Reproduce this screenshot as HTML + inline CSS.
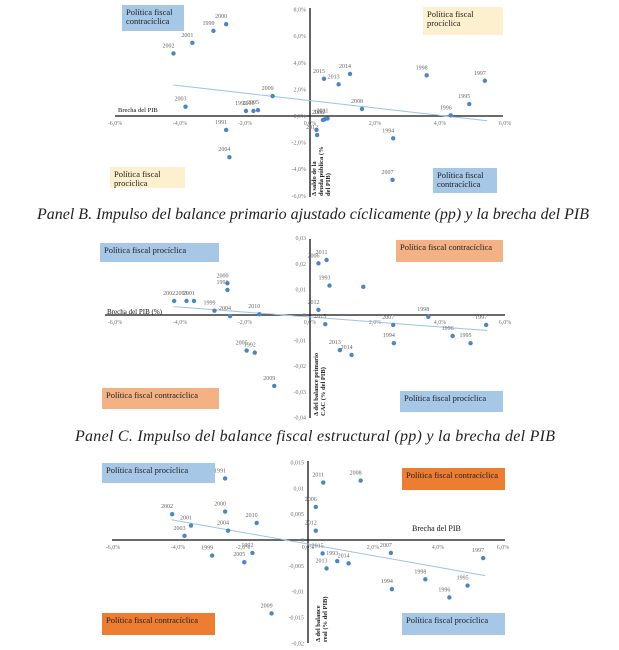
<!DOCTYPE html>
<html><head><meta charset="utf-8"><style>
html,body{margin:0;padding:0;background:#fff;}
svg{display:block;font-family:"Liberation Serif",serif;}
</style></head><body>
<svg id="c" width="619" height="650" viewBox="0 0 619 650" xmlns="http://www.w3.org/2000/svg"></svg>
<script>
// Panel A data
const aYears=["2000","1999","2001","2002","2003","1992","2010","2005","2009","1991","2004","2015","2013","2014","2011","1993","2006","","2012","2008","1994","2007","1998","1996","1995","1997"];
const aX=[-2.58,-2.97,-3.62,-4.2,-3.83,-1.97,-1.74,-1.6,-1.15,-2.58,-2.48,0.43,0.88,1.23,0.54,0.45,0.4,0.2,0.22,1.6,2.56,2.54,3.59,4.33,4.9,5.38];
const aY=[6.9,6.4,5.5,4.7,0.7,0.38,0.38,0.45,1.5,-1.05,-3.1,2.8,2.38,3.16,-0.18,-0.25,-0.3,-1.05,-1.43,0.53,-1.68,-4.8,3.06,0.05,0.9,2.65];
const aTrend=[1.16,-0.278];
const aYTicks=[8,6,4,2,0,-2,-4,-6];
const aYTickLabels=["8,0%","6,0%","4,0%","2,0%","0,0%","-2,0%","-4,0%","-6,0%"];
// Panel B data
const bYears=["2011","2006","1993","","2012","2015","2013","2014","2009","2002","2003","2001","2000","1991","1999","2004","2010","2005","1992","2007","1998","1994","1996","1995","1997"];
const bX=[0.51,0.26,0.6,1.64,0.26,0.47,0.92,1.28,-1.1,-4.18,-3.8,-3.57,-2.54,-2.54,-2.94,-2.46,-1.56,-1.95,-1.7,2.56,3.64,2.58,4.39,4.94,5.42];
const bY=[0.0215,0.0202,0.0115,0.011,0.002,-0.0036,-0.0137,-0.0156,-0.0277,0.0055,0.0055,0.0055,0.0124,0.0098,0.0017,-0.0004,0.0003,-0.0139,-0.0147,-0.0039,-0.0007,-0.011,-0.0082,-0.011,-0.0039];
const bTrend=[-0.0008,-0.000967];
const bYTicks=[0.03,0.02,0.01,0,-0.01,-0.02,-0.03,-0.04];
const bYTickLabels=["0,03","0,02","0,01","0","-0,01","-0,02","-0,03","-0,04"];
// Panel C data
const cYears=["1991","2011","2008","2006","2012","2002","2001","2003","2000","2004","2010","1999","2005","1992","2009","2015","2013","1993","2014","2007","1994","1998","1996","1995","1997"];
const cX=[-2.55,0.47,1.62,0.24,0.24,-4.18,-3.6,-3.8,-2.55,-2.46,-1.58,-2.95,-1.96,-1.71,-1.12,0.45,0.57,0.9,1.25,2.55,2.58,3.61,4.35,4.91,5.39];
const cY=[0.0119,0.0111,0.0115,0.0064,0.0018,0.005,0.0028,0.0008,0.0055,0.0018,0.0033,-0.003,-0.0043,-0.0025,-0.0142,-0.0026,-0.0055,-0.0041,-0.0045,-0.0025,-0.0095,-0.0076,-0.0111,-0.0088,-0.0035];
const cTrend=[-0.00078,-0.00112];
const cYTicks=[0.015,0.01,0.005,0,-0.005,-0.01,-0.015,-0.02];
const cYTickLabels=["0,015","0,01","0,005","0","-0,005","-0,01","-0,015","-0,02"];
const xTicks=[-6,-4,-2,0,2,4,6];
const xTickLabels=["-6,0%","-4,0%","-2,0%","0,0%","2,0%","4,0%","6,0%"];

const svg=document.getElementById('c');
const NS="http://www.w3.org/2000/svg";
function mk(tag,attrs,parent){const e=document.createElementNS(NS,tag);for(const k in attrs)e.setAttribute(k,attrs[k]);(parent||svg).appendChild(e);return e;}
function txt(s,x,y,size,attrs,parent){const e=mk('text',Object.assign({x:x,y:y,'font-size':size},attrs||{}),parent);e.textContent=s;return e;}

function panel(id,cfg,years,xs,ys,trend,yTicks,yTickLabels){
  const g=mk('g',{});
  
  
  const sx=v=>cfg.x0+v*cfg.kx;
  const sy=v=>cfg.y0-v*cfg.ky;
  cfg.boxes.forEach((b,i)=>{
    const r=mk('rect',{x:b[0],y:b[1],width:b[2],height:b[3],fill:b[4]},g);
    
    
    b[5].forEach((line,j)=>{
      const t=txt(line,b[0]+4,b[1]+10+j*9,8.5,{fill:'#222'},g);
      
      
    });
  });
  const xa=mk('line',{x1:cfg.xl,x2:cfg.xr,y1:cfg.y0,y2:cfg.y0,stroke:'#111','stroke-width':1.3},g);
  
  
  const ya=mk('line',{x1:cfg.x0,x2:cfg.x0,y1:cfg.yt,y2:cfg.yb,stroke:'#111','stroke-width':1.3},g);
  
  
  xTicks.forEach((v,i)=>{
    const t=txt(xTickLabels[i],sx(v),cfg.y0+9,6,{fill:'#777','text-anchor':'middle'},g);
    
    
  });
  yTicks.forEach((v,i)=>{
    const t=txt(yTickLabels[i],cfg.x0-4,sy(v)+2,6,{fill:'#777','text-anchor':'end'},g);
    
    
  });
  const tx1=-4.2,tx2=5.45;
  const tl=mk('line',{x1:sx(tx1),y1:sy(trend[0]+trend[1]*tx1),x2:sx(tx2),y2:sy(trend[0]+trend[1]*tx2),stroke:'#9cc3e6','stroke-width':1},g);
  
  
  xs.forEach((v,i)=>{
    const c=mk('circle',{cx:sx(v),cy:sy(ys[i]),r:2.2,fill:'#4a86c5'},g);
    
    
    if(years[i]){
      const t=txt(years[i],sx(v)-5,sy(ys[i])-6,6,{fill:'#666','text-anchor':'middle'},g);
      
      
    }
  });
  const xt=txt(cfg.xTitle[0],cfg.xTitle[1],cfg.xTitle[2],cfg.xTitle[3],{fill:'#111'},g);
  
  
  const yg=mk('g',{transform:'translate('+cfg.yTitle[1]+','+cfg.yTitle[2]+') rotate(-90)'},g);
  
  
  cfg.yTitle[0].forEach((line,j)=>{
    const t=txt(line,0,j*7,6.5,{fill:'#222','font-weight':'bold'},yg);
    
    
  });
}

const BLUE='#a7c7e7',YEL='#fdf0cf',ORL='#f4b183',ORD='#ed7d31';
panel('panel-a',{x0:310,kx:32.5,y0:116,ky:13.3,xl:115,xr:503,yt:8,yb:197,
  boxes:[[122,5,62,26,BLUE,['Política fiscal','contracíclica']],[423,7,80,28,YEL,['Política fiscal','procíclica']],
         [110,167,75,21,YEL,['Política fiscal','procíclica']],[433,168,64,25,BLUE,['Política fiscal','contracíclica']]],
  xTitle:['Brecha del PIB',118,112,6.5],yTitle:[['Δ saldo de la','deuda pública (%','del PIB)'],316,196]},
  aYears,aX,aY,aTrend,aYTicks,aYTickLabels);
panel('panel-b',{x0:310,kx:32.5,y0:315,ky:2560,xl:105,xr:505,yt:239,yb:418,
  boxes:[[100,243,119,19,BLUE,['Política fiscal procíclica']],[396,240,107,22,ORL,['Política fiscal contracíclica']],
         [102,388,117,21,ORL,['Política fiscal contracíclica']],[400,391,103,21,BLUE,['Política fiscal procíclica']]],
  xTitle:['Brecha del PIB (%)',107,314,7],yTitle:[['Δ del balance primario','CAC (% del PIB)'],318,416]},
  bYears,bX,bY,bTrend,bYTicks,bYTickLabels);
panel('panel-c',{x0:308,kx:32.5,y0:540,ky:5172,xl:112,xr:505,yt:461,yb:643,
  boxes:[[102,463,113,20,BLUE,['Política fiscal procíclica']],[402,468,103,22,ORD,['Política fiscal contracíclica']],
         [102,613,113,22,ORD,['Política fiscal contracíclica']],[402,613,103,22,BLUE,['Política fiscal procíclica']]],
  xTitle:['Brecha del PIB',412,531,8],yTitle:[['Δ del balance','real (% del PIB)'],320,642]},
  cYears,cX,cY,cTrend,cYTicks,cYTickLabels);

const t1=txt('Panel B. Impulso del balance primario ajustado cíclicamente (pp) y la brecha del PIB',313,219,16,{'font-style':'italic','text-anchor':'middle',fill:'#222','textLength':552});


const t2=txt('Panel C. Impulso del balance fiscal estructural (pp) y la brecha del PIB',315,441,16,{'font-style':'italic','text-anchor':'middle',fill:'#222','textLength':480});


</script>
</body></html>
